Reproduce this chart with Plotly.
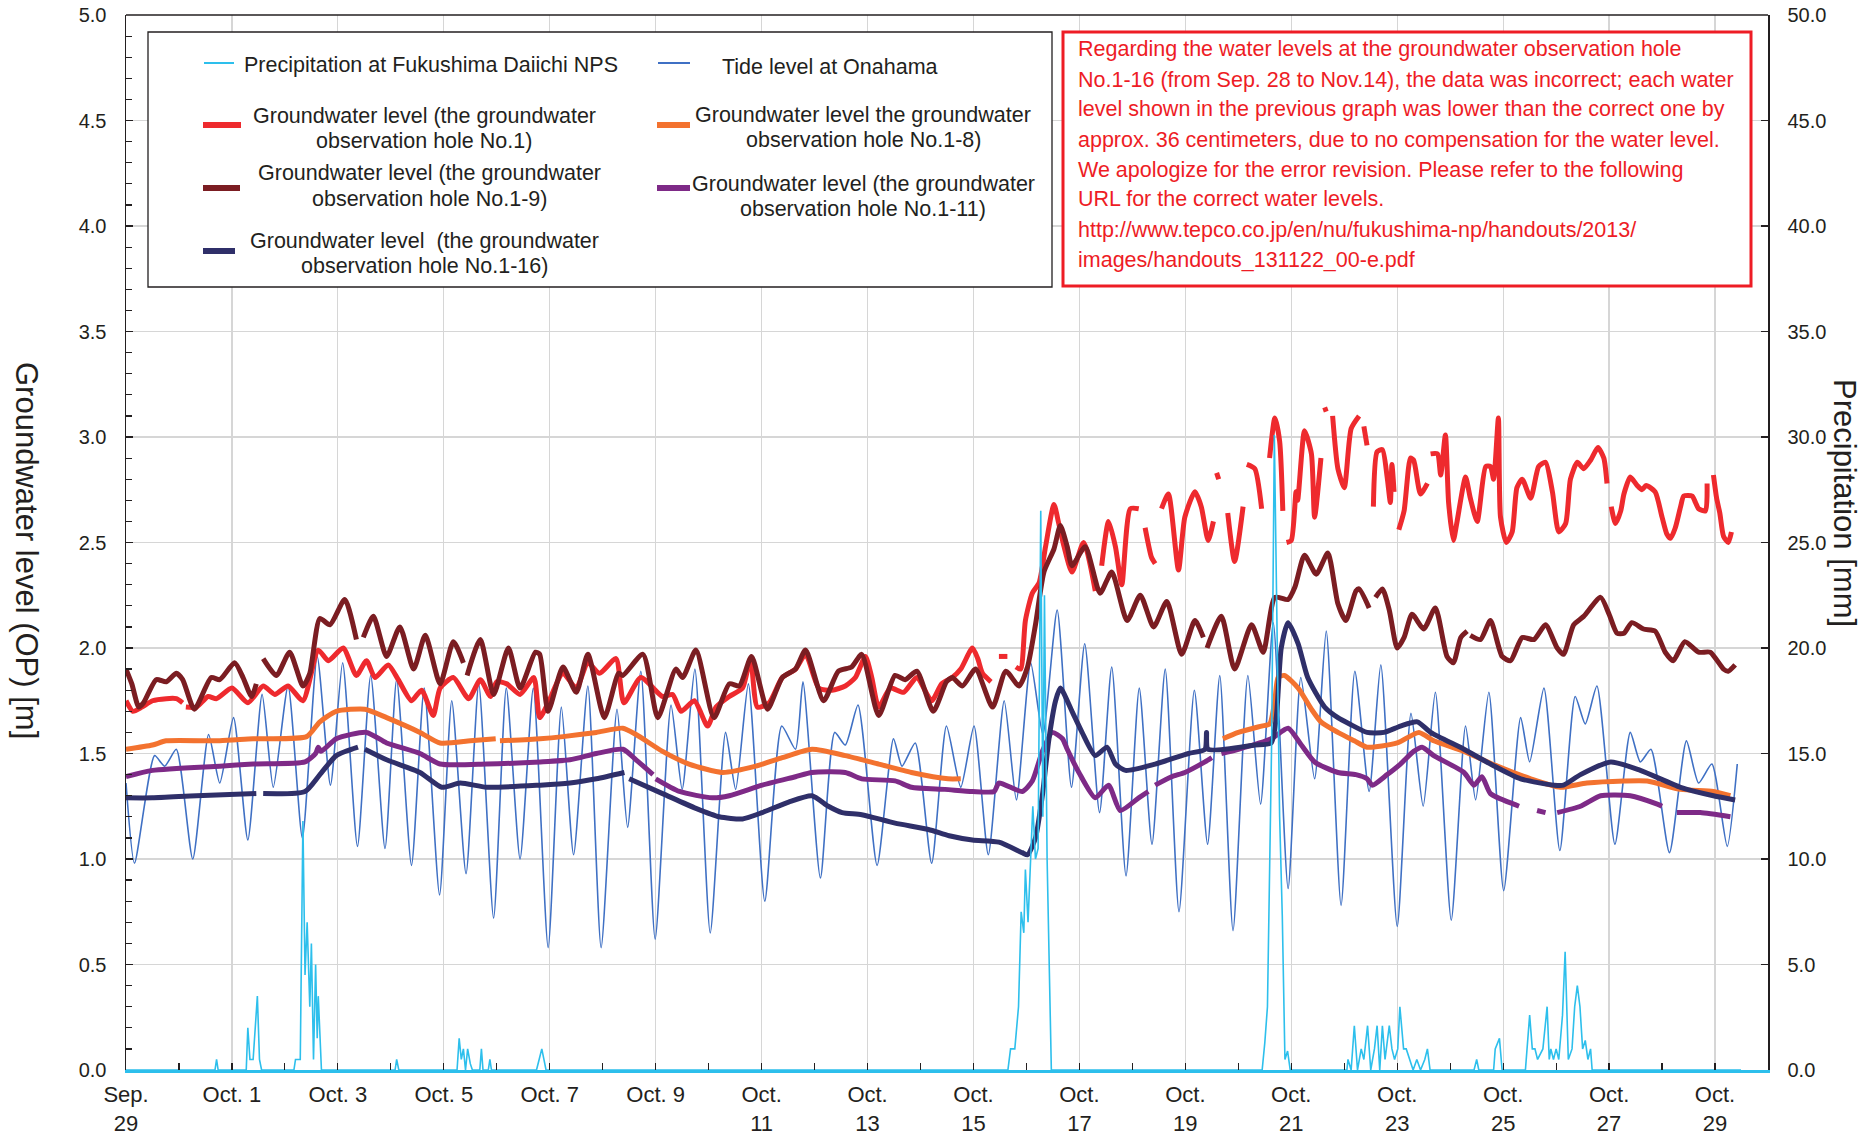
import plotly.graph_objects as go

# ---------------- data (x = days since Sep 29 00:00) ----------------
tick_days = [0, 2, 4, 6, 8, 10, 12, 14, 16, 18, 20, 22, 24, 26, 28, 30]
tick_text = ["Sep.<br>29", "Oct. 1", "Oct. 3", "Oct. 5", "Oct. 7", "Oct. 9",
             "Oct.<br>11", "Oct.<br>13", "Oct.<br>15", "Oct.<br>17", "Oct.<br>19",
             "Oct.<br>21", "Oct.<br>23", "Oct.<br>25", "Oct.<br>27", "Oct.<br>29"]

tide_day = [0.00, 0.16, 0.54, 0.73, 0.95, 1.26, 1.56, 1.77, 2.03, 2.30, 2.57, 2.78, 3.06, 3.33,
            3.61, 3.86, 4.09, 4.37, 4.62, 4.89, 5.11, 5.39, 5.63, 5.92, 6.15, 6.42, 6.66, 6.94,
            7.18, 7.44, 7.69, 7.97, 8.22, 8.45, 8.72, 8.97, 9.27, 9.47, 9.72, 9.99, 10.29, 10.50,
            10.74, 11.03, 11.32, 11.51, 11.75, 12.06, 12.38, 12.64, 12.78, 13.11, 13.38, 13.58,
            13.82, 14.18, 14.49, 14.65, 14.90, 15.21, 15.49, 15.76, 16.01, 16.28, 16.58, 16.81,
            17.08, 17.31, 17.58, 17.85, 18.10, 18.38, 18.61, 18.88, 19.13, 19.37, 19.62, 19.88,
            20.17, 20.42, 20.65, 20.90, 21.18, 21.42, 21.66, 21.94, 22.18, 22.44, 22.66, 22.94,
            23.20, 23.47, 23.69, 24.00, 24.26, 24.49, 24.72, 25.02, 25.29, 25.48, 25.73, 26.01,
            26.33, 26.50, 26.77, 27.07, 27.36, 27.55, 27.77, 28.11, 28.40, 28.59, 28.79, 29.14,
            29.46, 29.69, 29.94, 30.23, 30.42]
tide_m = [1.36, 0.98, 1.49, 1.44, 1.52, 1.00, 1.59, 1.36, 1.67, 1.09, 1.78, 1.34, 1.82, 1.10,
          1.96, 1.35, 1.93, 1.06, 1.87, 1.05, 1.85, 0.97, 1.81, 0.83, 1.75, 0.93, 1.83, 0.72,
          1.81, 1.00, 1.81, 0.58, 1.72, 1.02, 1.82, 0.58, 1.71, 1.15, 1.89, 0.62, 1.73, 1.33,
          1.90, 0.65, 1.60, 1.33, 1.83, 0.80, 1.63, 1.52, 1.84, 0.91, 1.60, 1.54,
          1.73, 0.97, 1.57, 1.44, 1.55, 0.98, 1.63, 1.34, 1.63, 1.02, 1.75, 1.28,
          1.93, 1.59, 2.18, 1.34, 2.02, 1.22, 1.91, 0.92, 1.81, 1.07, 1.90, 0.75,
          1.80, 1.07, 1.87, 0.66, 1.87, 1.26, 2.12, 0.86, 1.86, 1.38, 2.08, 0.78,
          1.89, 1.32, 1.92, 0.68, 1.69, 1.25, 1.79, 0.71, 1.63, 1.28, 1.79, 0.85,
          1.67, 1.46, 1.81, 1.04, 1.77, 1.64, 1.82, 1.07, 1.60, 1.46, 1.52, 1.03,
          1.56, 1.36, 1.45, 1.06, 1.45]

rain_day = [0.00, 1.68, 1.71, 1.74, 2.27, 2.30, 2.34, 2.40, 2.48, 2.52, 2.56, 3.17, 3.20, 3.29,
            3.34, 3.38, 3.42, 3.47, 3.50, 3.54, 3.58, 3.61, 3.63, 3.69, 5.08, 5.11, 5.15, 6.25,
            6.29, 6.33, 6.37, 6.41, 6.45, 6.50, 6.54, 6.68, 6.71, 6.74, 6.84, 6.87, 6.90, 7.75,
            7.80, 7.85, 7.89, 7.93, 16.65, 16.70, 16.78, 16.85, 16.90, 16.95, 16.98, 17.03,
            17.12, 17.17, 17.22, 17.27, 17.31, 17.34, 17.39, 17.47, 21.45, 21.50, 21.55, 21.58,
            21.63, 21.68, 21.73, 21.78, 21.83, 21.88, 21.93, 21.98, 23.05, 23.07, 23.13, 23.19,
            23.25, 23.32, 23.37, 23.44, 23.50, 23.57, 23.62, 23.67, 23.72, 23.77, 23.85, 23.90,
            23.95, 24.01, 24.05, 24.12, 24.17, 24.24, 24.30, 24.37, 24.44, 24.52, 24.57, 24.62,
            25.45, 25.50, 25.54, 25.82, 25.85, 25.93, 25.98, 26.42, 26.45, 26.50, 26.55, 26.60,
            26.65, 26.75, 26.83, 26.87, 26.90, 26.95, 27.00, 27.05, 27.12, 27.17, 27.23, 27.30,
            27.35, 27.40, 27.45, 27.50, 27.55, 27.60, 27.65, 27.68, 30.49]
rain_mm = [0, 0, 0.5, 0, 0, 2.0, 0.5, 0.5, 3.5, 0.5, 0, 0, 0.5, 0.5,
           11.8, 4.5, 7.0, 3.0, 6.0, 0.5, 5.0, 1.5, 3.5, 0, 0, 0.5, 0, 0,
           1.5, 0.5, 1.0, 0, 1.0, 0.3, 0, 0, 1.0, 0, 0, 0.5, 0, 0,
           0.5, 1.0, 0.5, 0, 0, 1.0, 1.0, 3.0, 7.5, 6.5, 9.5, 7.0,
           12.5, 10.0, 10.5, 26.5, 12.0, 22.5, 10.0, 0, 0, 1.3, 3.0, 8.3,
           15.7, 30.1, 22.0, 12.0, 7.3, 0.5, 0.9, 0, 0, 0.5, 0, 2.1,
           0, 1.0, 0.5, 2.1, 0, 1.0, 2.1, 0, 2.1, 0.5, 2.1, 1.0,
           0.5, 1.0, 3.0, 1.0, 1.0, 0.5, 0, 0.5, 0, 0.5, 1.0, 0,
           0, 0.5, 0, 0, 1.0, 1.5, 0, 0, 1.0, 2.6, 1.0, 1.0,
           0.5, 1.0, 3.0, 0.5, 1.0, 0.5, 1.0, 0.5, 2.6, 5.6, 0.5, 1.0,
           3.0, 4.0, 3.0, 1.0, 1.4, 0.5, 1.0, 0, 0]

no1_day = [0.00, 0.13, 0.30, 0.50, 0.76, 0.95, 1.07, 1.10, 1.13, 1.33, 1.55, 1.71, 2.00, 2.30,
           2.59, 2.81, 3.06, 3.34, 3.63, 3.82, 4.10, 4.35, 4.54, 4.70, 4.95, 5.14, 5.39, 5.58,
           5.80, 5.93, 6.18, 6.47, 6.69, 6.88, 7.00, 7.19, 7.44, 7.70, 7.81, 7.97, 8.25, 8.50,
           8.72, 8.94, 9.25, 9.40, 9.72, 10.13, 10.32, 10.48, 10.73, 10.98, 11.14, 11.39, 11.64,
           11.79, 11.92, 12.14, 12.39, 12.64, 12.83, 13.08, 13.33, 13.58, 13.77, 13.96, 14.08,
           14.21, 14.43, 14.68, 14.93, 15.21, 15.40, 15.60, 15.76, 15.98, 16.08, 16.17, 16.33,
           16.40, 16.48, 16.64, 16.70, 16.80, 16.89, 16.98, 17.11, 17.24, 17.36, 17.52, 17.61,
           17.71, 17.86, 18.08, 18.30, 18.36, 18.42, 18.55, 18.68, 18.80, 18.96, 19.12, 19.18,
           19.24, 19.36, 19.43, 19.49, 19.55, 19.68, 19.87, 19.99, 20.18, 20.30, 20.43, 20.53,
           20.56, 20.59, 20.63, 20.66, 20.80, 20.93, 21.09, 21.15, 21.16, 21.31, 21.44, 21.51,
           21.59, 21.69, 21.78, 21.84, 21.87, 21.91, 22.00, 22.09, 22.12, 22.25, 22.38, 22.44,
           22.56, 22.60, 22.63, 22.66, 22.70, 22.78, 22.88, 23.00, 23.13, 23.28, 23.35, 23.37,
           23.43, 23.49, 23.55, 23.62, 23.72, 23.81, 23.87, 23.90, 23.94, 23.98, 24.03, 24.13,
           24.25, 24.31, 24.44, 24.57, 24.60, 24.63, 24.76, 24.82, 24.91, 24.97, 25.06, 25.13,
           25.29, 25.38, 25.51, 25.67, 25.76, 25.82, 25.91, 25.95, 26.06, 26.17, 26.26, 26.36,
           26.52, 26.67, 26.80, 26.93, 27.05, 27.18, 27.27, 27.40, 27.52, 27.65, 27.79, 27.90,
           27.96, 28.00, 28.04, 28.12, 28.22, 28.28, 28.40, 28.53, 28.62, 28.70, 28.87, 29.00,
           29.09, 29.16, 29.25, 29.35, 29.41, 29.57, 29.63, 29.69, 29.82, 29.85, 29.91, 29.97,
           30.03, 30.09, 30.16, 30.25, 30.31]
no1_m = [1.75, 1.70, 1.72, 1.75, 1.76, 1.76, 1.74, None, 1.72, 1.72, 1.77, 1.76, 1.81, 1.74,
         1.82, 1.78, 1.82, 1.75, 1.99, 1.94, 2.00, 1.87, 1.94, 1.86, 1.92, 1.85, 1.75, 1.80,
         1.68, 1.81, 1.86, 1.76, 1.85, 1.77, 1.84, 1.83, 1.78, 1.86, 1.67, 1.74, 1.88, 1.81,
         1.93, 1.88, 1.95, 1.74, 1.86, 1.77, 1.78, 1.70, 1.75, 1.63, 1.72, 1.77, 1.81,
         1.95, 1.72, 1.74, 1.86, 1.90, 1.97, 1.81, 1.80, 1.82, 1.86, 1.96, 1.86,
         1.72, 1.81, 1.79, 1.86, 1.75, 1.83, 1.86, 1.90, 2.00, 1.95, 1.88, 1.84,
         None, 1.96, 1.96, None, 1.91, 1.90, 2.13, 2.26, 2.31, 2.48, 2.68, 2.59,
         2.48, 2.36, 2.50, 2.27, None, 2.39, 2.60, 2.48, 2.30, 2.66, 2.66, None,
         2.57, 2.43, 2.40, None, 2.66, 2.73, 2.37, 2.62, 2.74, 2.67, 2.51, 2.60,
         None, 2.83, 2.80, None, 2.64, 2.41, 2.67, None, 2.87, 2.85, 2.66, None,
         2.90, 3.09, 2.98, 2.65, None, 2.50, 2.51, 2.74, 2.70, 3.03, 2.92, 2.62,
         2.90, None, 3.14, 3.12, None, 3.10, 2.85, 2.76, 3.04, 3.10, None, 3.05,
         2.96, None, 2.67, 2.93, 2.94, 2.81, 2.69, 2.87, 2.74, None, 2.56, 2.65,
         2.90, 2.89, 2.73, 2.78, None, 2.92, 2.92, 2.82, 3.01, 2.69, 2.51, 2.60,
         2.81, 2.71, 2.60, 2.86, 2.86, 2.80, 3.09, 2.62, 2.50, 2.55, 2.76, 2.80,
         2.71, 2.86, 2.88, 2.74, 2.55, 2.59, 2.80, 2.88, 2.85, 2.89, 2.95, 2.90,
         2.78, None, 2.67, 2.59, 2.65, 2.73, 2.81, 2.77, 2.75, 2.77, 2.74, 2.62,
         2.54, 2.52, 2.57, 2.67, 2.72, 2.72, 2.69, 2.66, 2.65, 2.78, None, 2.82,
         2.71, 2.64, 2.53, 2.50, 2.55]

no1_9_day = [0.00, 0.11, 0.24, 0.33, 0.57, 0.76, 0.95, 1.07, 1.29, 1.61, 1.77, 2.05, 2.21, 2.37,
             2.46, 2.52, 2.59, 2.84, 3.09, 3.34, 3.47, 3.66, 3.85, 4.13, 4.35, 4.41, 4.48, 4.67,
             4.92, 5.17, 5.43, 5.65, 5.93, 6.18, 6.37, 6.40, 6.44, 6.69, 6.94, 7.22, 7.44, 7.73,
             7.81, 7.97, 8.25, 8.50, 8.72, 9.03, 9.30, 9.38, 9.76, 10.04, 10.38, 10.51, 10.76,
             11.10, 11.39, 11.58, 11.81, 12.11, 12.39, 12.64, 12.83, 13.17, 13.45, 13.70, 13.89,
             14.21, 14.52, 14.71, 14.93, 15.24, 15.49, 15.60, 15.79, 16.04, 16.36, 16.61, 16.86,
             17.02, 17.17, 17.33, 17.52, 17.64, 17.77, 17.86, 18.11, 18.39, 18.61, 18.90, 19.15,
             19.40, 19.65, 19.93, 20.18, 20.34, 20.38, 20.41, 20.68, 20.93, 21.25, 21.47, 21.69,
             21.94, 22.07, 22.25, 22.47, 22.69, 22.88, 23.03, 23.22, 23.28, 23.47, 23.52, 23.59,
             23.72, 23.85, 24.00, 24.13, 24.28, 24.50, 24.72, 24.94, 25.06, 25.20, 25.32, 25.36,
             25.38, 25.57, 25.76, 25.98, 26.14, 26.36, 26.58, 26.80, 27.02, 27.14, 27.33, 27.52,
             27.84, 28.00, 28.15, 28.28, 28.43, 28.65, 28.87, 29.06, 29.21, 29.43, 29.69, 29.91,
             30.16, 30.25, 30.38]
no1_9_m = [1.90, 1.83, 1.72, 1.74, 1.85, 1.84, 1.88, 1.85, 1.71, 1.86, 1.85, 1.93, 1.86, 1.77,
           1.83, None, 1.95, 1.87, 1.98, 1.82, 1.88, 2.14, 2.11, 2.23, 2.04, None, 2.05, 2.15,
           1.96, 2.10, 1.90, 2.06, 1.83, 2.03, 1.93, None, 1.87, 2.04, 1.78, 2.00, 1.81, 1.98,
           1.97, 1.70, 1.91, 1.79, 1.97, 1.67, 1.88, 1.87, 1.97, 1.67, 1.90, 1.86, 1.99,
           1.67, 1.83, 1.82, 1.96, 1.71, 1.86, 1.90, 1.99, 1.75, 1.89, 1.91, 1.97,
           1.68, 1.87, 1.85, 1.89, 1.70, 1.84, 1.86, 1.82, 1.90, 1.72, 1.89, 1.82,
           1.91, 2.11, 2.36, 2.47, 2.58, 2.48, 2.39, 2.48, 2.26, 2.36, 2.13, 2.25,
           2.10, 2.22, 1.97, 2.13, 2.05, None, 2.00, 2.15, 1.90, 2.11, 1.98, 2.24,
           2.23, 2.29, 2.44, 2.35, 2.45, 2.21, 2.13, 2.27, 2.28, 2.19, None, 2.24,
           2.28, 2.18, 2.00, 2.05, 2.16, 2.09, 2.19, 1.96, 1.93, 2.05, 2.08, None,
           2.06, 2.04, 2.13, 1.96, 1.94, 2.05, 2.04, 2.11, 2.00, 1.97, 2.11, 2.15,
           2.24, 2.16, 2.07, 2.07, 2.12, 2.09, 2.08, 1.98, 1.94, 2.03, 1.98, 1.98,
           1.90, 1.89, 1.92]

no1_8_day = [0.00, 0.50, 0.76, 1.77, 2.40, 3.41, 3.66, 3.97, 4.51, 4.92, 5.55, 5.93, 6.50, 6.98,
             7.02, 7.06, 7.82, 8.25, 8.88, 9.38, 9.63, 10.13, 10.63, 11.26, 11.89, 12.39, 12.95,
             13.58, 14.21, 14.83, 15.52, 15.76, 15.80, 20.71, 21.00, 21.44, 21.59, 21.69, 21.75,
             21.87, 22.13, 22.38, 22.56, 22.88, 23.19, 23.43, 24.00, 24.41, 24.69, 25.26, 25.89,
             26.52, 27.08, 27.58, 28.28, 28.72, 29.35, 29.97, 30.29]
no1_8_m = [1.52, 1.54, 1.56, 1.56, 1.57, 1.58, 1.65, 1.70, 1.71, 1.67, 1.60, 1.55, 1.56, 1.57,
           None, 1.56, 1.57, 1.58, 1.60, 1.62, 1.59, 1.51, 1.45, 1.41, 1.44, 1.48, 1.52,
           1.49, 1.45, 1.41, 1.38, 1.38, None, 1.57, 1.60, 1.63, 1.64, 1.75, 1.86,
           1.87, 1.81, 1.71, 1.65, 1.60, 1.56, 1.53, 1.55, 1.60, 1.56, 1.51, 1.44,
           1.38, 1.34, 1.36, 1.37, 1.37, 1.33, 1.32, 1.30]

no1_11_day = [0.00, 0.50, 1.77, 2.40, 3.38, 3.58, 3.63, 3.68, 3.97, 4.54, 4.92, 5.55, 5.93, 6.81,
              7.82, 8.38, 8.88, 9.38, 9.63, 9.95, 9.98, 10.00, 10.45, 11.07, 11.39, 12.01, 12.64,
              12.95, 13.58, 13.89, 14.52, 14.83, 15.46, 15.98, 16.39, 16.48, 16.92, 17.11, 17.30,
              17.49, 17.68, 17.77, 17.99, 18.30, 18.55, 18.77, 19.12, 19.30, 19.33, 19.43, 19.74,
              19.99, 20.37, 20.50, 20.53, 20.68, 21.00, 21.62, 21.94, 22.19, 22.44, 22.88, 23.22,
              23.43, 23.53, 23.81, 24.06, 24.31, 24.47, 24.69, 25.26, 25.45, 25.60, 25.76, 26.20,
              26.30, 26.33, 26.64, 26.80, 26.83, 27.02, 27.46, 27.84, 28.40, 28.91, 29.00, 29.03,
              29.28, 29.72, 30.29]
no1_11_m = [1.39, 1.42, 1.44, 1.45, 1.46, 1.50, 1.53, 1.51, 1.57, 1.60, 1.55, 1.50, 1.45, 1.45,
            1.46, 1.47, 1.50, 1.52, 1.47, 1.40, None, 1.38, 1.32, 1.29, 1.30, 1.35, 1.39,
            1.41, 1.41, 1.38, 1.37, 1.34, 1.33, 1.32, 1.32, 1.36, 1.32, 1.37, 1.51,
            1.60, 1.57, 1.52, 1.41, 1.29, 1.35, 1.23, 1.29, 1.32, None, 1.35, 1.39,
            1.41, 1.46, 1.48, None, 1.50, 1.52, 1.57, 1.62, 1.54, 1.46, 1.41, 1.40,
            1.38, 1.35, 1.40, 1.45, 1.51, 1.53, 1.49, 1.41, 1.35, 1.39, 1.31, 1.26,
            1.25, None, 1.23, 1.22, None, 1.22, 1.25, 1.30, 1.30, 1.26, 1.25, None,
            1.22, 1.22, 1.20]

no1_16_day = [0.00, 0.50, 1.33, 2.46, 2.50, 2.59, 3.38, 3.66, 3.97, 4.38, 4.43, 4.51, 4.92, 5.55,
              5.96, 6.31, 6.81, 7.82, 8.38, 8.88, 9.41, 9.45, 9.50, 10.13, 10.76, 11.20, 11.64,
              12.01, 12.51, 12.95, 13.26, 13.52, 13.89, 14.52, 15.15, 15.54, 15.98, 16.48, 16.92,
              17.02, 17.17, 17.30, 17.42, 17.55, 17.64, 17.86, 18.05, 18.30, 18.52, 18.68, 18.87,
              19.43, 20.06, 20.37, 20.40, 20.43, 21.31, 21.62, 21.72, 21.81, 21.94, 22.13, 22.31,
              22.63, 22.88, 23.10, 23.43, 23.75, 24.06, 24.38, 24.63, 25.26, 25.76, 26.33, 26.96,
              27.14, 27.46, 28.03, 28.59, 29.35, 29.97, 30.38]
no1_16_m = [1.29, 1.29, 1.30, 1.31, None, 1.31, 1.32, 1.40, 1.49, 1.53, None, 1.52, 1.47, 1.41,
            1.34, 1.36, 1.34, 1.35, 1.36, 1.38, 1.41, None, 1.38, 1.31, 1.24, 1.20, 1.19,
            1.22, 1.27, 1.30, 1.25, 1.22, 1.21, 1.17, 1.14, 1.11, 1.09, 1.08, 1.03,
            1.02, 1.10, 1.30, 1.56, 1.75, 1.81, 1.70, 1.60, 1.49, 1.53, 1.45, 1.42,
            1.45, 1.50, 1.52, 1.60, 1.52, 1.54, 1.55, 1.68, 2.00, 2.12, 2.02, 1.86,
            1.72, 1.67, 1.64, 1.60, 1.60, 1.63, 1.65, 1.60, 1.52, 1.45, 1.38, 1.35,
            1.35, 1.40, 1.46, 1.42, 1.34, 1.30, 1.28]

# ---------------- styling ----------------
FONT = "Liberation Sans, Arial, sans-serif"
TXT = "#231f20"
C_RAIN = "#2dbfec"
C_TIDE = "#3f70c4"
C_NO1 = "#ee2a2e"
C_NO18 = "#f3722f"
C_NO19 = "#7b1d22"
C_NO111 = "#7e2a87"
C_NO116 = "#2f2f69"
C_NOTE = "#ee1c25"

L, R, T, B = 126, 1768, 15, 1070
W_FIG, H_FIG = 1874, 1136


def px(x):
    return (x - L) / (R - L)


def py(y):
    return (B - y) / (B - T)


fig = go.Figure()

fig.add_trace(go.Scatter(x=tide_day, y=tide_m, mode="lines", name="Tide level at Onahama",
                         line=dict(color=C_TIDE, width=1.6, shape="spline", smoothing=0.6),
                         showlegend=False, hoverinfo="skip"))
fig.add_trace(go.Scatter(x=rain_day, y=rain_mm, mode="lines", yaxis="y2",
                         name="Precipitation at Fukushima Daiichi NPS",
                         line=dict(color=C_RAIN, width=1.6), showlegend=False, hoverinfo="skip"))

gw = [
    (no1_day, no1_m, C_NO1),
    (no1_9_day, no1_9_m, C_NO19),
    (no1_8_day, no1_8_m, C_NO18),
    (no1_11_day, no1_11_m, C_NO111),
    (no1_16_day, no1_16_m, C_NO116),
]
for xd, yd, col in gw:
    fig.add_trace(go.Scatter(x=xd, y=yd, mode="lines", connectgaps=False,
                             line=dict(color=col, width=5, shape="spline", smoothing=0.6),
                             showlegend=False, hoverinfo="skip"))

shapes = []
annotations = []

# top border of the plot frame
shapes.append(dict(type="line", xref="paper", yref="paper", x0=0, x1=1, y0=1, y1=1,
                   line=dict(color="#231f20", width=1.5), layer="above"))
# legend box
shapes.append(dict(type="rect", xref="paper", yref="paper", x0=px(148), x1=px(1052),
                   y0=py(287), y1=py(32), line=dict(color="#231f20", width=1.3),
                   fillcolor="white", layer="above"))
# note box
shapes.append(dict(type="rect", xref="paper", yref="paper", x0=px(1063), x1=px(1751),
                   y0=py(286), y1=py(32), line=dict(color=C_NOTE, width=3),
                   fillcolor="white", layer="above"))

legend_items = [
    # (line x0, x1, y, color, width, [(text, cx, cy), ...])
    (204, 234, 63, C_RAIN, 2, [("Precipitation at Fukushima Daiichi NPS", 431, 65)]),
    (658, 690, 63, C_TIDE, 2, [("Tide level at Onahama", 830, 67)]),
    (203, 241, 125, C_NO1, 6, [("Groundwater level (the groundwater", 424, 116),
                               ("observation hole No.1)", 424, 141)]),
    (657, 690, 125, C_NO18, 6, [("Groundwater level the groundwater", 863, 115),
                                ("observation hole No.1-8)", 863, 140)]),
    (203, 240, 188, C_NO19, 6, [("Groundwater level (the groundwater", 429, 173),
                                ("observation hole No.1-9)", 429, 199)]),
    (657, 690, 188, C_NO111, 6, [("Groundwater level (the groundwater", 863, 184),
                                 ("observation hole No.1-11)", 863, 209)]),
    (203, 235, 251, C_NO116, 6, [("Groundwater level  (the groundwater", 424, 241),
                                 ("observation hole No.1-16)", 424, 266)]),
]
for x0, x1, yy, col, wd, texts in legend_items:
    shapes.append(dict(type="line", xref="paper", yref="paper", x0=px(x0), x1=px(x1),
                       y0=py(yy), y1=py(yy), line=dict(color=col, width=wd), layer="above"))
    for t, cx, cy in texts:
        annotations.append(dict(text=t.replace("  ", "&nbsp; "), xref="paper", yref="paper",
                                x=px(cx), y=py(cy), xanchor="center", yanchor="middle",
                                showarrow=False, font=dict(family=FONT, size=21.5, color=TXT)))

note_lines = [
    "Regarding the water levels at the groundwater observation hole",
    "No.1-16 (from Sep. 28 to Nov.14), the data was incorrect; each water",
    "level shown in the previous graph was lower than the correct one by",
    "approx. 36 centimeters, due to no compensation for the water level.",
    "We apologize for the error revision. Please refer to the following",
    "URL for the correct water levels.",
    "http://www.tepco.co.jp/en/nu/fukushima-np/handouts/2013/",
    "images/handouts_131122_00-e.pdf",
]
for i, t in enumerate(note_lines):
    annotations.append(dict(text=t, xref="paper", yref="paper", x=px(1076), y=py(49.5 + 30 * i),
                            xanchor="left", yanchor="middle", showarrow=False,
                            font=dict(family=FONT, size=21.5, color=C_NOTE)))

# axis titles (rotated to read top-to-bottom)
annotations.append(dict(text="Groundwater level (OP) [m]", xref="paper", yref="paper",
                        x=px(27), y=py(550), xanchor="center", yanchor="middle", textangle=90,
                        showarrow=False, font=dict(family=FONT, size=31, color=TXT)))
annotations.append(dict(text="Precipitation [mm]", xref="paper", yref="paper",
                        x=px(1845), y=py(503), xanchor="center", yanchor="middle", textangle=90,
                        showarrow=False, font=dict(family=FONT, size=31, color=TXT)))

fig.update_layout(
    width=W_FIG, height=H_FIG,
    margin=dict(l=L, r=W_FIG - R, t=T, b=H_FIG - B, autoexpand=False),
    paper_bgcolor="white", plot_bgcolor="white",
    showlegend=False,
    font=dict(family=FONT, color=TXT),
    shapes=shapes, annotations=annotations,
    xaxis=dict(range=[0, 31], tickmode="array", tickvals=tick_days, ticktext=tick_text,
               automargin=False,
               ticks="inside", ticklen=7, tickcolor="#231f20", tickwidth=1.2,
               minor=dict(dtick=1, tick0=0, ticks="inside", ticklen=7, tickcolor="#231f20",
                          showgrid=False),
               showgrid=True, gridcolor="#d6d6d6", gridwidth=1.2,
               showline=True, linecolor=C_RAIN, linewidth=3, mirror=False,
               zeroline=False, ticklabelstandoff=3,
               tickfont=dict(family=FONT, size=22, color=TXT)),
    yaxis=dict(range=[0, 5], tickmode="linear", tick0=0, dtick=0.5, tickformat=".1f",
               automargin=False,
               ticks="inside", ticklen=7, tickcolor="#231f20", tickwidth=1.2,
               minor=dict(dtick=0.1, tick0=0, ticks="inside", ticklen=6, tickcolor="#231f20",
                          showgrid=False),
               showgrid=True, gridcolor="#d6d6d6", gridwidth=1.2,
               showline=True, linecolor="#231f20", linewidth=1.5, zeroline=False,
               ticklabelstandoff=14, tickfont=dict(family=FONT, size=20, color=TXT)),
    yaxis2=dict(range=[0, 50], overlaying="y", side="right", tickmode="linear", tick0=0,
                automargin=False,
                dtick=5, tickformat=".1f", ticks="inside", ticklen=7, tickcolor="#231f20",
                tickwidth=1.2, showgrid=False, showline=True, linecolor="#231f20",
                linewidth=1.5, zeroline=False, ticklabelstandoff=14,
                tickfont=dict(family=FONT, size=20, color=TXT)),
)

# remove the browser's default page margin so the figure sits at the window origin
fig.write_html("out.html",
               config={"displayModeBar": False, "staticPlot": True},
               post_script="document.body.style.margin='0px';"
                           "document.body.style.overflow='hidden';")
